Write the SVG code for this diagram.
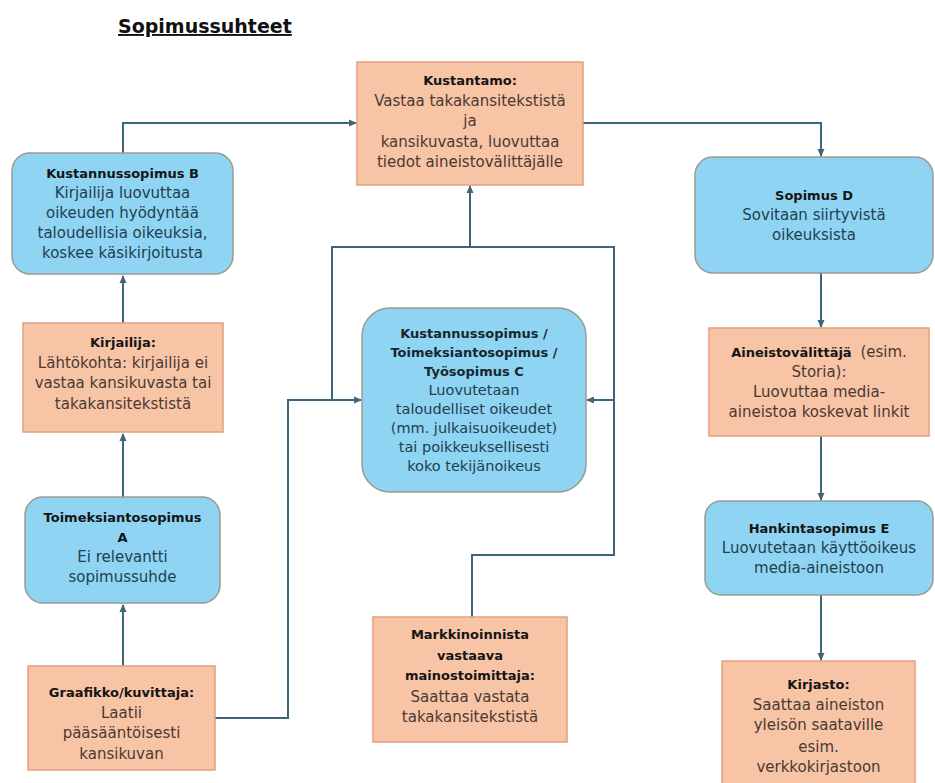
<svg xmlns="http://www.w3.org/2000/svg" width="935" height="783" viewBox="0 0 935 783">
<style>
text{font-family:"DejaVu Sans","Liberation Sans",sans-serif;text-anchor:middle}
.t{font-size:15px;fill:#4a3a33}
.tb{font-size:15px;fill:#1f4050}
.c{font-size:14.5px;fill:#1f4050}
.b{font-weight:bold;font-size:13px;fill:#151515}
.cb{font-weight:bold;font-size:13px;fill:#18262e}
.o{fill:#f8c4a6;stroke:#e2a07c;stroke-width:1.5}
.u{fill:#8fd4f3;stroke:#9a9a90;stroke-width:1.5}
.e{fill:none;stroke:#3e6579;stroke-width:2}
.title{font-weight:bold;font-size:19px;fill:#111;text-anchor:start;text-decoration:underline}
</style>
<defs>
<marker id="ah" markerWidth="8" markerHeight="8" refX="7" refY="4" orient="auto" markerUnits="userSpaceOnUse">
<path d="M0,0.5 L8,4 L0,7.5 z" fill="#3e6579"/>
</marker>
</defs>
<rect width="935" height="783" fill="#ffffff"/>
<text class="title" x="118" y="33">Sopimussuhteet</text>

<g id="connectors">
<path class="e" d="M123,666 V605" marker-end="url(#ah)"/>
<path class="e" d="M123,497 V434" marker-end="url(#ah)"/>
<path class="e" d="M123,323 V276" marker-end="url(#ah)"/>
<path class="e" d="M123,153 V123 H356" marker-end="url(#ah)"/>
<path class="e" d="M583,123 H821 V156" marker-end="url(#ah)"/>
<path class="e" d="M821,273 V327" marker-end="url(#ah)"/>
<path class="e" d="M821,436 V500" marker-end="url(#ah)"/>
<path class="e" d="M821,595 V660" marker-end="url(#ah)"/>
<path class="e" d="M215,718 H288 V400 H361" marker-end="url(#ah)"/>
<path class="e" d="M332,400 V247 H470 V186" marker-end="url(#ah)"/>
<path class="e" d="M472,617 V555 H614 V247 H470"/>
<path class="e" d="M614,400 H587" marker-end="url(#ah)"/>
</g>

<g id="kustantamo">
<rect class="o" x="357" y="62" width="226" height="123"/>
<text x="470" y="85" class="b">Kustantamo:</text>
<text x="470" y="105.5" class="t">Vastaa takakansitekstistä</text>
<text x="470" y="126" class="t">ja</text>
<text x="470" y="146.5" class="t">kansikuvasta, luovuttaa</text>
<text x="470" y="167" class="t">tiedot aineistovälittäjälle</text>
</g>

<g id="sopimusB">
<rect class="u" x="12" y="153" width="221" height="121" rx="18"/>
<text x="122.5" y="178" class="b">Kustannussopimus B</text>
<text x="122.5" y="198" class="tb">Kirjailija luovuttaa</text>
<text x="122.5" y="218" class="tb">oikeuden hyödyntää</text>
<text x="122.5" y="238" class="tb">taloudellisia oikeuksia,</text>
<text x="122.5" y="258" class="tb">koskee käsikirjoitusta</text>
</g>

<g id="kirjailija">
<rect class="o" x="23" y="323" width="200" height="109"/>
<text x="123" y="347" class="b">Kirjailija:</text>
<text x="123" y="368" class="t">Lähtökohta: kirjailija ei</text>
<text x="123" y="388" class="t">vastaa kansikuvasta tai</text>
<text x="123" y="409" class="t">takakansitekstistä</text>
</g>

<g id="sopimusA">
<rect class="u" x="25" y="497" width="195" height="106" rx="18"/>
<text x="122.5" y="522" class="b">Toimeksiantosopimus</text>
<text x="122.5" y="542" class="b">A</text>
<text x="122.5" y="562" class="tb">Ei relevantti</text>
<text x="122.5" y="582" class="tb">sopimussuhde</text>
</g>

<g id="graafikko">
<rect class="o" x="28" y="666" width="187" height="104"/>
<text x="121.5" y="697" class="b">Graafikko/kuvittaja:</text>
<text x="121.5" y="718" class="t">Laatii</text>
<text x="121.5" y="738" class="t">pääsääntöisesti</text>
<text x="121.5" y="759" class="t">kansikuvan</text>
</g>

<g id="sopimusC">
<rect class="u" x="362" y="308" width="224" height="184" rx="28"/>
<text x="474" y="338" class="cb">Kustannussopimus /</text>
<text x="474" y="357" class="cb">Toimeksiantosopimus /</text>
<text x="474" y="376" class="cb">Työsopimus C</text>
<text x="474" y="395" class="c">Luovutetaan</text>
<text x="474" y="414" class="c">taloudelliset oikeudet</text>
<text x="474" y="433" class="c">(mm. julkaisuoikeudet)</text>
<text x="474" y="452" class="c">tai poikkeuksellisesti</text>
<text x="474" y="471" class="c">koko tekijänoikeus</text>
</g>

<g id="markkinointi">
<rect class="o" x="373" y="617" width="194" height="125"/>
<text x="470" y="639" class="b">Markkinoinnista</text>
<text x="470" y="660" class="b">vastaava</text>
<text x="470" y="680" class="b">mainostoimittaja:</text>
<text x="470" y="702" class="t">Saattaa vastata</text>
<text x="470" y="722" class="t">takakansitekstistä</text>
</g>

<g id="sopimusD">
<rect class="u" x="695" y="157" width="238" height="116" rx="18"/>
<text x="814" y="200" class="b">Sopimus D</text>
<text x="814" y="220" class="tb">Sovitaan siirtyvistä</text>
<text x="814" y="240" class="tb">oikeuksista</text>
</g>

<g id="aineistovalittaja">
<rect class="o" x="709" y="328" width="220" height="108"/>
<text x="819" y="357"><tspan class="b">Aineistovälittäjä</tspan><tspan class="t" dx="4"> (esim.</tspan></text>
<text x="819" y="377" class="t">Storia):</text>
<text x="819" y="397" class="t">Luovuttaa media-</text>
<text x="819" y="417" class="t">aineistoa koskevat  linkit</text>
</g>

<g id="sopimusE">
<rect class="u" x="705" y="501" width="228" height="94" rx="16"/>
<text x="819" y="533" class="b">Hankintasopimus E</text>
<text x="819" y="553" class="tb">Luovutetaan käyttöoikeus</text>
<text x="819" y="573" class="tb">media-aineistoon</text>
</g>

<g id="kirjasto">
<rect class="o" x="722" y="661" width="193" height="135"/>
<text x="818.5" y="689" class="b">Kirjasto:</text>
<text x="818.5" y="710" class="t">Saattaa aineiston</text>
<text x="818.5" y="730" class="t">yleisön saataville</text>
<text x="818.5" y="752" class="t">esim.</text>
<text x="818.5" y="772" class="t">verkkokirjastoon</text>
</g>
</svg>
